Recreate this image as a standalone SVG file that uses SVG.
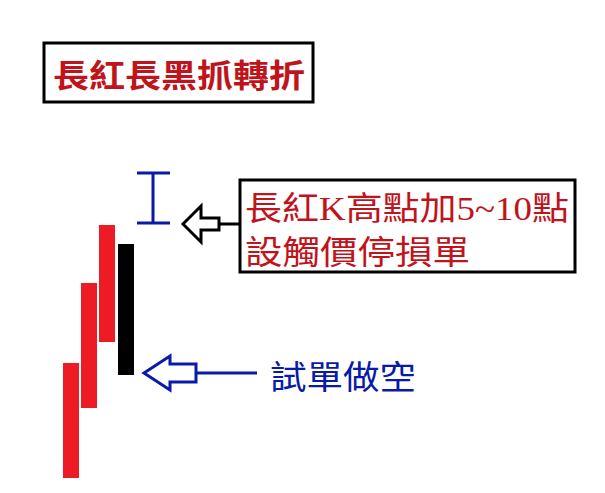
<svg xmlns="http://www.w3.org/2000/svg" width="605" height="493" viewBox="0 0 605 493">
<style>
.red{fill:#ed1c24}.blk{fill:#000}
.box{fill:#fff;stroke:#000;stroke-width:3}
.t{font-family:"Liberation Serif","Noto Sans CJK TC",serif}
.blue{stroke:#0a1aa8;stroke-width:3;fill:none}
</style>
<rect width="605" height="493" fill="#fff"/>
<g id="title"><rect class="box" x="44" y="43" width="269" height="59"/>
<text class="t" x="53" y="87" font-size="32" font-weight="bold" fill="#c0141c" textLength="252" lengthAdjust="spacingAndGlyphs">長紅長黑抓轉折</text></g>
<g id="candles">
<rect class="red" x="63" y="363" width="16" height="115"/>
<rect class="red" x="81" y="283" width="16" height="125"/>
<rect class="red" x="99" y="225" width="16" height="117"/>
<rect class="blk" x="118" y="244" width="16" height="131"/>
</g>
<g id="ibeam"><path class="blue" d="M137 173H170M153 173V223M137 223H170"/></g>
<g id="stopbox"><rect class="box" x="240" y="180" width="335" height="92"/>
<text class="t" x="245" y="220" font-size="33" fill="#c0141c" textLength="324" lengthAdjust="spacingAndGlyphs">長紅K高點加5~10點</text>
<text class="t" x="245" y="264" font-size="33" fill="#c0141c" textLength="225" lengthAdjust="spacingAndGlyphs">設觸價停損單</text></g>
<g id="short"><text class="t" x="270" y="389" font-size="33" fill="#0a1aa8" textLength="146" lengthAdjust="spacingAndGlyphs">試單做空</text></g>
<g id="connectors">
<path d="M240 224H219M219 218V230H201V242L183 224L201 206V218Z" fill="none" stroke="#000" stroke-width="3"/>
<path class="blue" d="M257 373H196M196 364V382H170V390L144 373L170 356V364Z"/>
</g>
</svg>
